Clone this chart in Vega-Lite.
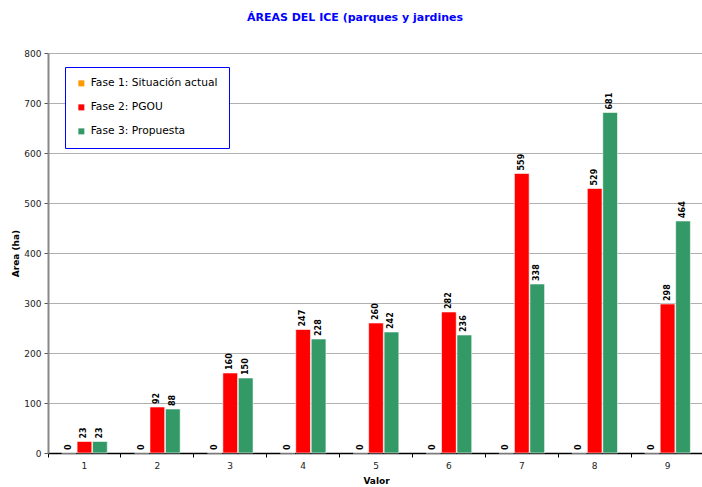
{
  "$schema": "https://vega.github.io/schema/vega-lite/v6.json",
  "autosize": {"type": "none"},
  "width": 656,
  "height": 400,
  "padding": {"left": 48, "top": 53, "right": 0, "bottom": 34},
  "background": "white",
  "title": {
    "text": "ÁREAS DEL ICE (parques y jardines",
    "color": "#0000ff",
    "font": "DejaVu Sans",
    "fontSize": 11,
    "fontWeight": "bold",
    "anchor": "middle",
    "dx": -21,
    "offset": 26
  },
  "data": {
    "values": [
      {"valor": "1", "fase": "Fase 1: Situación actual", "area": 0},
      {"valor": "1", "fase": "Fase 2: PGOU", "area": 23},
      {"valor": "1", "fase": "Fase 3: Propuesta", "area": 23},
      {"valor": "2", "fase": "Fase 1: Situación actual", "area": 0},
      {"valor": "2", "fase": "Fase 2: PGOU", "area": 92},
      {"valor": "2", "fase": "Fase 3: Propuesta", "area": 88},
      {"valor": "3", "fase": "Fase 1: Situación actual", "area": 0},
      {"valor": "3", "fase": "Fase 2: PGOU", "area": 160},
      {"valor": "3", "fase": "Fase 3: Propuesta", "area": 150},
      {"valor": "4", "fase": "Fase 1: Situación actual", "area": 0},
      {"valor": "4", "fase": "Fase 2: PGOU", "area": 247},
      {"valor": "4", "fase": "Fase 3: Propuesta", "area": 228},
      {"valor": "5", "fase": "Fase 1: Situación actual", "area": 0},
      {"valor": "5", "fase": "Fase 2: PGOU", "area": 260},
      {"valor": "5", "fase": "Fase 3: Propuesta", "area": 242},
      {"valor": "6", "fase": "Fase 1: Situación actual", "area": 0},
      {"valor": "6", "fase": "Fase 2: PGOU", "area": 282},
      {"valor": "6", "fase": "Fase 3: Propuesta", "area": 236},
      {"valor": "7", "fase": "Fase 1: Situación actual", "area": 0},
      {"valor": "7", "fase": "Fase 2: PGOU", "area": 559},
      {"valor": "7", "fase": "Fase 3: Propuesta", "area": 338},
      {"valor": "8", "fase": "Fase 1: Situación actual", "area": 0},
      {"valor": "8", "fase": "Fase 2: PGOU", "area": 529},
      {"valor": "8", "fase": "Fase 3: Propuesta", "area": 681},
      {"valor": "9", "fase": "Fase 1: Situación actual", "area": 0},
      {"valor": "9", "fase": "Fase 2: PGOU", "area": 298},
      {"valor": "9", "fase": "Fase 3: Propuesta", "area": 464}
    ]
  },
  "encoding": {
    "x": {
      "field": "valor",
      "type": "nominal",
      "scale": {"paddingInner": 0, "paddingOuter": 0},
      "axis": {
        "title": "Valor",
        "titleFont": "DejaVu Sans",
        "titleFontSize": 9,
        "titleFontWeight": "bold",
        "titleColor": "#000",
        "titlePadding": 6,
        "labelAngle": 0,
        "labelFont": "DejaVu Sans",
        "labelFontSize": 9,
        "labelColor": "#222",
        "labelPadding": 4,
        "bandPosition": 0,
        "domainColor": "#000",
        "domainWidth": 1.5,
        "tickColor": "#000",
        "tickSize": 4,
        "grid": false
      }
    },
    "xOffset": {
      "field": "fase",
      "type": "nominal",
      "scale": {"paddingInner": 0.05, "paddingOuter": 0.88}
    },
    "y": {
      "field": "area",
      "type": "quantitative",
      "scale": {"domain": [0, 800], "nice": false},
      "axis": {
        "title": "Area (ha)",
        "titleFont": "DejaVu Sans",
        "titleFontSize": 9,
        "titleFontWeight": "bold",
        "titleColor": "#000",
        "titlePadding": 3,
        "values": [0, 100, 200, 300, 400, 500, 600, 700, 800],
        "labelFont": "DejaVu Sans",
        "labelFontSize": 9,
        "labelColor": "#222",
        "labelPadding": 3,
        "domainColor": "#888",
        "domainWidth": 2,
        "tickColor": "#555",
        "tickSize": 4,
        "gridColor": "#b0b0b0",
        "gridWidth": 1
      }
    }
  },
  "layer": [
    {
      "mark": {"type": "bar", "stroke": "#ffffff", "strokeWidth": 0.8, "strokeOpacity": 0.7},
      "encoding": {
        "color": {
          "field": "fase",
          "type": "nominal",
          "scale": {"range": ["#ff9900", "#ff0000", "#339966"]},
          "legend": {
            "title": null,
            "orient": "none",
            "legendX": 17,
            "legendY": 14,
            "direction": "vertical",
            "strokeColor": "#0000ff",
            "fillColor": "#ffffff",
            "padding": 11,
            "rowPadding": 12,
            "symbolType": "square",
            "symbolSize": 36,
            "symbolStrokeWidth": 0,
            "labelFont": "DejaVu Sans",
            "labelFontSize": 10.7,
            "labelColor": "#000",
            "labelOffset": 4
          }
        }
      }
    },
    {
      "mark": {
        "type": "text",
        "angle": 270,
        "align": "left",
        "baseline": "middle",
        "dx": 3,
        "font": "DejaVu Sans",
        "fontSize": 8,
        "fontWeight": "bold",
        "color": "#000"
      },
      "encoding": {
        "text": {"field": "area", "type": "quantitative"}
      }
    }
  ],
  "config": {
    "view": {"stroke": null}
  }
}
